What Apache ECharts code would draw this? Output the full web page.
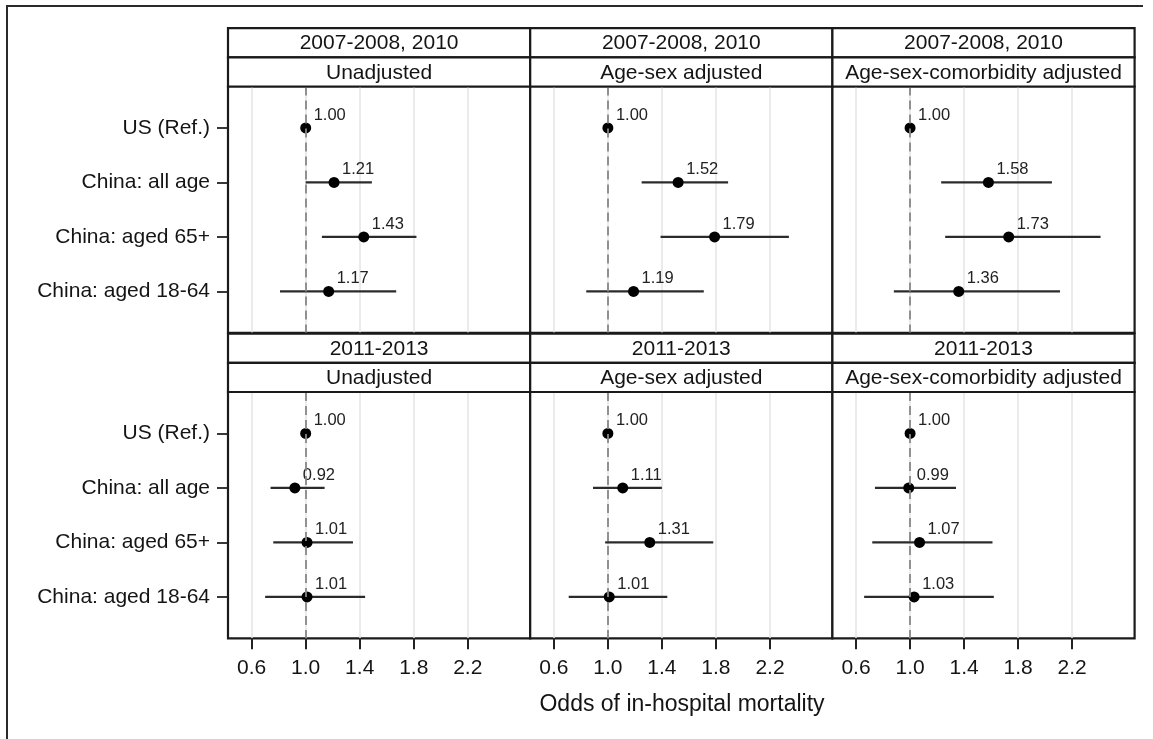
<!DOCTYPE html>
<html><head><meta charset="utf-8">
<script src="https://cdn.jsdelivr.net/npm/echarts@6/dist/echarts.min.js"></script>
<style>html,body{margin:0;padding:0;background:#fff}#c{width:1153px;height:739px}</style>
</head><body><div id="c"></div>
<script>
// ---- data ----
const rows = ['US (Ref.)', 'China: all age', 'China: aged 65+', 'China: aged 18-64'];
const periods = ['2007-2008, 2010', '2011-2013'];
const adjustments = ['Unadjusted', 'Age-sex adjusted', 'Age-sex-comorbidity adjusted'];
const xTicks = [0.6, 1.0, 1.4, 1.8, 2.2];
const xTitle = 'Odds of in-hospital mortality';

// 2007-2008, 2010
const estEarlyUnadj = [1.00, 1.21, 1.43, 1.17];
const loEarlyUnadj  = [1.00, 1.00, 1.12, 0.81];
const hiEarlyUnadj  = [1.00, 1.49, 1.82, 1.67];
const estEarlyAgeSex = [1.00, 1.52, 1.79, 1.19];
const loEarlyAgeSex  = [1.00, 1.25, 1.39, 0.84];
const hiEarlyAgeSex  = [1.00, 1.89, 2.34, 1.71];
const estEarlyComorb = [1.00, 1.58, 1.73, 1.36];
const loEarlyComorb  = [1.00, 1.23, 1.26, 0.88];
const hiEarlyComorb  = [1.00, 2.05, 2.41, 2.11];
// 2011-2013
const estLateUnadj = [1.00, 0.92, 1.01, 1.01];
const loLateUnadj  = [1.00, 0.74, 0.76, 0.70];
const hiLateUnadj  = [1.00, 1.14, 1.35, 1.44];
const estLateAgeSex = [1.00, 1.11, 1.31, 1.01];
const loLateAgeSex  = [1.00, 0.89, 0.98, 0.71];
const hiLateAgeSex  = [1.00, 1.40, 1.78, 1.44];
const estLateComorb = [1.00, 0.99, 1.07, 1.03];
const loLateComorb  = [1.00, 0.74, 0.72, 0.66];
const hiLateComorb  = [1.00, 1.34, 1.61, 1.62];

const panels = [
  [[estEarlyUnadj, loEarlyUnadj, hiEarlyUnadj], [estEarlyAgeSex, loEarlyAgeSex, hiEarlyAgeSex], [estEarlyComorb, loEarlyComorb, hiEarlyComorb]],
  [[estLateUnadj, loLateUnadj, hiLateUnadj], [estLateAgeSex, loLateAgeSex, hiLateAgeSex], [estLateComorb, loLateComorb, hiLateComorb]]
];

// ---- layout ----
const FONT = '"Liberation Sans", Arial, Helvetica, sans-serif';
const colX = [228, 530.2, 832.4];
const colW = 302.2;
const plotTop = [86.5, 392];
const plotH = 246.3;
const stripH = 29.2;
const INK = '#141414';

const grids = [], xAxes = [], yAxes = [], series = [], graphics = [];
let gi = 0;
for (let r = 0; r < 2; r++) {
  for (let c = 0; c < 3; c++) {
    const [est, lo, hi] = panels[r][c];
    grids.push({left: colX[c], top: plotTop[r], width: colW, height: plotH,
      show: true, borderColor: '#1a1a1a', borderWidth: 2.2, backgroundColor: '#fff', containLabel: false});
    const bottom = r === 1;
    xAxes.push({
      type: 'value', gridIndex: gi, min: 0.425, max: 2.662,
      axisLine: {show: false},
      axisTick: {show: bottom, customValues: xTicks, length: 11, lineStyle: {color: '#222', width: 2}},
      axisLabel: {show: bottom, customValues: xTicks, margin: 19, fontSize: 21, fontFamily: FONT, color: INK,
        formatter: v => v.toFixed(1)},
      splitLine: {show: true, lineStyle: {color: '#e4e4e4', width: 1.5}}
    });
    yAxes.push({
      type: 'value', gridIndex: gi, min: 0.24, max: 4.76, inverse: true,
      axisLine: {show: false},
      axisTick: {show: c === 0, customValues: [1, 2, 3, 4], length: 11, lineStyle: {color: '#222', width: 1.8}},
      axisLabel: {show: c === 0, customValues: [1, 2, 3, 4], margin: 18, fontSize: 21, fontFamily: FONT, color: INK,
        formatter: v => rows[Math.round(v) - 1] || ''},
      splitLine: {show: false}
    });
    series.push({
      type: 'custom', xAxisIndex: gi, yAxisIndex: gi, z: 3,
      data: rows.map((_, i) => [lo[i], hi[i], i + 1]),
      encode: {x: [0, 1], y: 2},
      renderItem: (params, api) => {
        const a = api.coord([api.value(0), api.value(2)]);
        const b = api.coord([api.value(1), api.value(2)]);
        return {type: 'line', shape: {x1: a[0], y1: a[1], x2: b[0], y2: b[1]},
          style: {stroke: '#2b2b2b', lineWidth: 2.2}};
      }
    });
    series.push({
      type: 'scatter', xAxisIndex: gi, yAxisIndex: gi, z: 4,
      symbol: 'circle', symbolSize: 11,
      itemStyle: {color: '#000', opacity: 1},
      data: rows.map((_, i) => [est[i], i + 1]),
      label: {show: true, position: 'right', distance: 2.5, offset: [0, -12.5],
        fontSize: 16.5, fontFamily: FONT, color: '#222',
        formatter: p => p.value[0].toFixed(2)},
      markLine: {silent: true, symbol: 'none', label: {show: false}, animation: false,
        lineStyle: {color: '#888', type: [9, 5], width: 1.8},
        data: [{xAxis: 1}]}
    });
    // strips
    const t1 = plotTop[r] - 2 * stripH, t2 = plotTop[r] - stripH;
    [[t1, periods[r]], [t2, adjustments[c]]].forEach(([t, txt]) => {
      graphics.push({type: 'rect', shape: {x: colX[c], y: t, width: colW, height: stripH},
        style: {fill: '#fff', stroke: '#1a1a1a', lineWidth: 2.2}, z: 10});
      graphics.push({type: 'text', x: colX[c] + colW / 2, y: t + stripH / 2 + 1, z: 11,
        style: {text: txt, fontSize: 21, fontFamily: FONT, fill: INK, align: 'center', verticalAlign: 'middle'}});
    });
    gi++;
  }
}
// outer frame and title
graphics.push({type: 'polyline', shape: {points: [[7, 739], [7, 6], [1143, 6]]},
  style: {fill: null, stroke: '#2a2a2a', lineWidth: 2}, z: 10});
graphics.push({type: 'text', x: 682, y: 705, z: 11,
  style: {text: xTitle, fontSize: 23, fontFamily: FONT, fill: INK, align: 'center', verticalAlign: 'middle'}});

const chart = echarts.init(document.getElementById('c'), null, {renderer: 'canvas'});
chart.setOption({
  animation: false,
  backgroundColor: '#fff',
  grid: grids, xAxis: xAxes, yAxis: yAxes, series: series,
  graphic: graphics
});
</script></body></html>
